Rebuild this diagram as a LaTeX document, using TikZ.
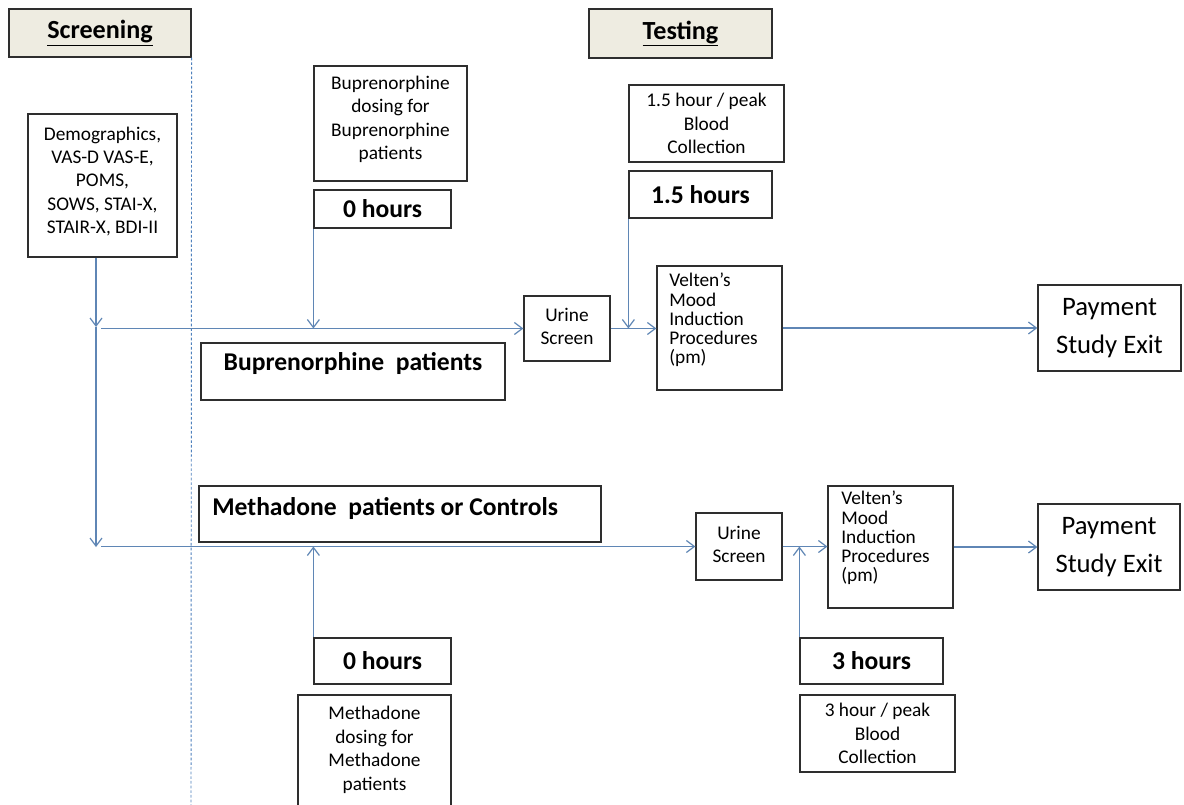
\documentclass[tikz,border=0pt]{standalone}
\usepackage{fontspec}
\setmainfont{Carlito}
\usetikzlibrary{arrows.meta,fit}
\definecolor{boxc}{HTML}{2E2E2E}
\definecolor{hdrfill}{HTML}{EEECE1}
\definecolor{connc}{HTML}{5F86B5}
\definecolor{dashc}{HTML}{4F81BD}
\tikzset{
  box/.style={draw=boxc, line width=0.9pt, inner sep=0pt},
  hdr/.style={box, fill=hdrfill},
  conn/.style={draw=connc, line width=0.9pt},
  arr/.style={conn, -{Straight Barb[length=6pt,width=9pt]}},
  sm/.style={font=\fontsize{14.5}{17.6}\selectfont, align=center, inner sep=0pt},
  smtight/.style={font=\fontsize{14.5}{14.4}\selectfont, align=left, inner sep=0pt},
  bl/.style={font=\bfseries\fontsize{19.2}{23}\selectfont, inner sep=0pt},
  pay/.style={font=\fontsize{20}{28.5}\selectfont, align=center, inner sep=0pt},
  hdrtext/.style={font=\bfseries\fontsize{19.6}{23}\selectfont, inner sep=0pt},
}
\begin{document}
\begin{tikzpicture}[x=0.75pt,y=-0.75pt]
\clip (0,0) rectangle (1184,805);
\fill[white] (0,0) rectangle (1184,805);

% headers
\node[hdr, fit={(9,9) (191,57)}] (screen) {};
\node[hdrtext] (screentxt) at (screen.center) {\underline{Screening}};
\node[hdr, fit={(589,9) (772,58)}] (test) {};
\node[hdrtext] (testtxt) at (test.center) {\underline{Testing}};

% dashed separator
\coordinate (dend) at (191,805);
\draw[draw=dashc, line width=0.7pt, dash pattern=on 2pt off 1.5pt] (screen.south east) -- (dend);

% screening measures
\node[box, fit={(28,114) (177,257)}] (demo) {};
\node[sm] (demotxt) at ([yshift=3pt]demo.center) {Demographics,\\VAS-D VAS-E,\\POMS,\\SOWS, STAI-X,\\STAIR-X, BDI-II};

% buprenorphine branch
\node[box, fit={(314,66) (467,181)}] (bupdose) {};
\node[sm] (bupdosetxt) at ([yshift=3pt]bupdose.center) {Buprenorphine\\dosing for\\Buprenorphine\\patients};
\node[box, fit={(314,190) (451,228)}] (zero1) {};
\node[bl] (zero1txt) at (zero1.center) {0 hours};
\node[box, fit={(629,85) (784,162)}] (peak1) {};
\node[sm] (peak1txt) at (peak1.center) {1.5 hour / peak\\Blood\\Collection};
\node[box, fit={(629,171) (772,218)}] (h15) {};
\node[bl] (h15txt) at (h15.center) {1.5 hours};
\node[box, fit={(201,343) (505,400)}] (bupbox) {};
\node[bl] (buptxt) at (353,364) {Buprenorphine\ \ patients};
\node[box, fit={(524,296) (610,361)}] (urine1) {};
\node[sm] (urine1txt) at ([yshift=1.5pt]urine1.center) {Urine\\Screen};
\node[box, fit={(657,266) (782,390)}] (velten1) {};
\node[smtight, anchor=north west] (vtxt1) at (669,273) {Velten’s\\Mood\\Induction\\Procedures\\(pm)};
\node[box, fit={(1038,285) (1181,371)}] (pay1) {};
\node[pay] (pay1txt) at (pay1.center) {Payment\\Study Exit};

% methadone branch
\node[box, fit={(199,486) (601,542)}] (methbox) {};
\node[bl, anchor=west] (methtxt) at (212,509) {Methadone\ \ patients or Controls};
\node[box, fit={(696,513) (782,580)}] (urine2) {};
\node[sm] (urine2txt) at ([yshift=1.5pt]urine2.center) {Urine\\Screen};
\node[box, fit={(828,486) (953,608)}] (velten2) {};
\node[smtight, anchor=north west] (vtxt2) at (841,491) {Velten’s\\Mood\\Induction\\Procedures\\(pm)};
\node[box, fit={(1038,504) (1180,590)}] (pay2) {};
\node[pay] (pay2txt) at (pay2.center) {Payment\\Study Exit};
\node[box, fit={(314,638) (451,684)}] (zero2) {};
\node[bl] (zero2txt) at (zero2.center) {0 hours};
\node[box, fit={(298,695) (451,840)}] (methdose) {};
\node[sm] (mdtxt) at (374.5,750) {Methadone\\dosing for\\Methadone\\patients};
\node[box, fit={(800,638) (943,684)}] (h3) {};
\node[bl] (h3txt) at (h3.center) {3 hours};
\node[box, fit={(800,695) (955,772)}] (peak2) {};
\node[sm] (peak2txt) at (peak2.center) {3 hour / peak\\Blood\\Collection};

% junction coordinates
\coordinate (j1) at (96,327);
\coordinate (j2) at (96,547);
\coordinate (s1) at (101,328.5);
\coordinate (s2) at (101,546.5);

% connectors
\draw[arr] (demo.south -| j1) -- (j1);
\draw[arr] (j1) -- (j2);
\draw[arr] (s1) -- (urine1.west);
\draw[arr] (zero1.south west) -- (zero1.south west |- s1);
\draw[arr] (h15.south west) -- (h15.south west |- s1);
\draw[arr] (urine1.east) -- (velten1.west |- urine1.east);
\draw[arr] (velten1.east |- pay1.west) -- (pay1.west);
\draw[arr] (s2) -- (urine2.west);
\draw[arr] (zero2.north west) -- (zero2.north west |- s2);
\draw[arr] (urine2.east) -- (velten2.west |- urine2.east);
\draw[arr] (h3.north west) -- (h3.north west |- s2);
\draw[arr] (velten2.east |- pay2.west) -- (pay2.west);
\end{tikzpicture}
\end{document}
